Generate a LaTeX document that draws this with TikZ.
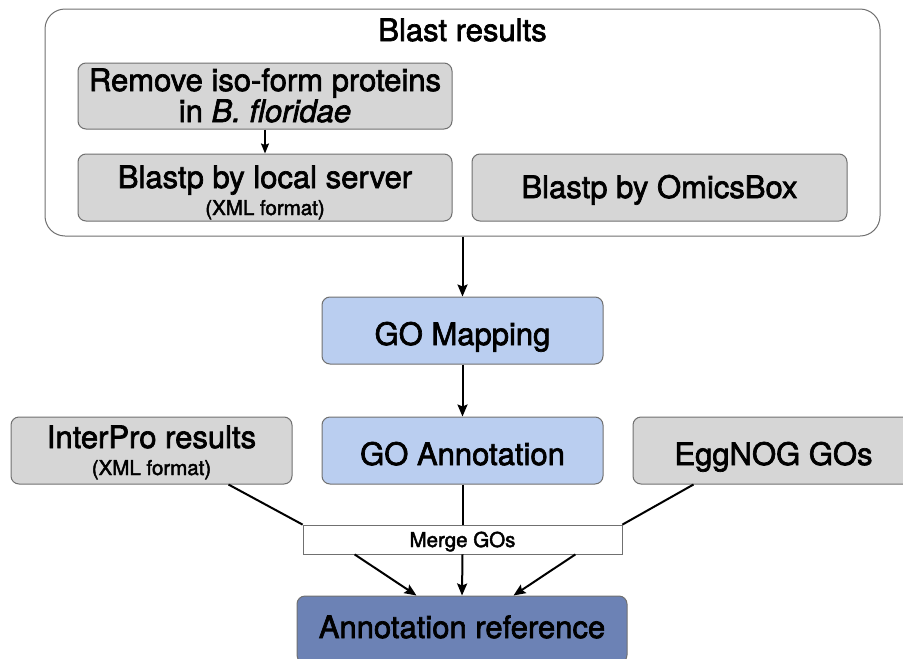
\documentclass[tikz,border=0pt]{standalone}
\usepackage{fontspec}
\setmainfont{TeX Gyre Heros}[FakeBold=2.2]
\usetikzlibrary{arrows.meta,calc}

\definecolor{boxgray}{RGB}{214,214,214}
\definecolor{edgegray}{RGB}{112,112,112}
\definecolor{goblue}{RGB}{186,206,240}
\definecolor{refblue}{RGB}{108,130,181}

\tikzset{
  panel/.style={draw=edgegray, line width=1pt, rounded corners=20pt, fill=white, inner sep=0pt},
  graybox/.style={draw=edgegray, line width=1pt, rounded corners=8pt, fill=boxgray, inner sep=0pt},
  bluebox/.style={graybox, fill=goblue},
  refbox/.style={graybox, fill=refblue},
  mergebox/.style={draw=edgegray, line width=0.8pt, fill=white, inner sep=0pt},
  bigtxt/.style={anchor=base, inner sep=0pt, font=\fontsize{31}{36}\selectfont},
  smalltxt/.style={anchor=base, inner sep=0pt, font=\fontsize{20.5}{24}\selectfont},
  flow/.style={line width=2pt, -{Stealth[length=12pt,width=10pt,inset=2pt]}},
  thinflow/.style={line width=1.5pt, -{Stealth[length=10pt,width=8pt,inset=1.5pt]}},
  link/.style={line width=2pt},
}

\begin{document}
\begin{tikzpicture}[x=1pt,y=-1pt]
\useasboundingbox (0,0) rectangle (903,659);

% Blast results panel and its inner steps
\node[panel, minimum width=835pt, minimum height=227pt] (blast) at (462.5,122.5) {};
\node[bigtxt] (blastT) at (462.5,41) {Blast results};

\node[graybox, minimum width=374pt, minimum height=66pt] (remove) at (265,96) {};
\node[bigtxt] (removeT1) at (265,91) {Remove iso-form proteins};
\node[bigtxt] (removeT2) at (265,122) {in \textit{B. floridae}};

\node[graybox, minimum width=374pt, minimum height=67pt] (local) at (265,187.5) {};
\node[bigtxt] (localT1) at (265,188) {Blastp by local server};
\node[smalltxt] (localT2) at (265,215) {(XML format)};

\node[graybox, minimum width=375pt, minimum height=67pt] (omics) at (659.5,187.5) {};
\node[bigtxt] (omicsT) at (659.5,198) {Blastp by OmicsBox};

% GO steps
\node[bluebox, minimum width=281pt, minimum height=67pt] (gomap) at (462.5,330.5) {};
\node[bigtxt] (gomapT) at (462.5,345) {GO Mapping};

\node[bluebox, minimum width=281pt, minimum height=67pt] (goann) at (462.5,450.5) {};
\node[bigtxt] (goannT) at (462.5,465) {GO Annotation};

\node[graybox, minimum width=281pt, minimum height=67pt] (interpro) at (151.5,450.5) {};
\node[bigtxt] (interproT1) at (151.5,448) {InterPro results};
\node[smalltxt] (interproT2) at (151.5,475) {(XML format)};

\node[graybox, minimum width=281pt, minimum height=67pt] (eggnog) at (773.5,450.5) {};
\node[bigtxt] (eggnogT) at (773.5,465) {EggNOG GOs};

% Merge step and final reference
\node[mergebox, minimum width=319pt, minimum height=29pt] (merge) at (462.5,539.5) {};
\node[smalltxt] (mergeT) at (462.5,547) {Merge GOs};

\node[refbox, minimum width=330pt, minimum height=67pt] (annref) at (462,629.5) {};
\node[bigtxt] (annrefT) at (462,638) {Annotation reference};

% Connectors
\draw[thinflow] (remove.south) -- (local.north);
\draw[flow] (blast.south) -- (gomap.north);
\draw[flow] (gomap.south) -- (goann.north);

\draw[link] ([xshift=-64pt]interpro.south east) -- (merge.north west);
\draw[link] (goann.south) -- (merge.north);
\draw[link] ([xshift=61pt]eggnog.south west) -- (merge.north east);

\draw[flow] ([xshift=52pt]merge.south west) -- ([xshift=120pt]annref.north west);
\draw[flow] (merge.south) -- (annref.north);
\draw[flow] ([xshift=-47pt]merge.south east) -- ([xshift=-114pt]annref.north east);
\end{tikzpicture}
\end{document}
